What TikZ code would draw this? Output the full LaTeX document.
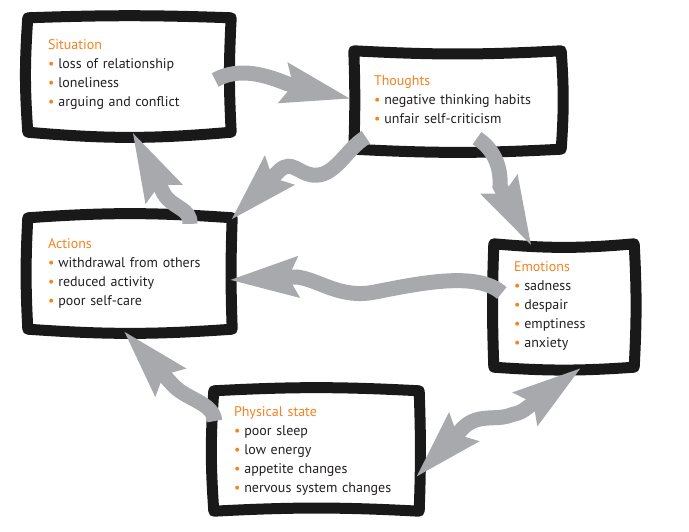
\documentclass[tikz,border=0pt]{standalone}
\usepackage{fontspec}
\setmainfont{PT Sans}
\usetikzlibrary{arrows.meta}
\definecolor{boxorange}{HTML}{F58220}
\definecolor{flowgray}{HTML}{A7A9AC}
\definecolor{inktext}{HTML}{231F20}
\newcommand{\bul}{{\color{boxorange}\textbullet}\hspace{4pt}}
\newcommand{\boxtitle}[1]{{\color{boxorange}#1}}
\tikzset{
  box/.style={rectangle,inner xsep=20pt,inner ysep=0pt,align=left,text=inktext,
    font=\fontsize{14}{19}\selectfont},
  frame/.style={line width=11pt,line join=round,line cap=round,draw=black!90},
  flow/.style={draw=flowgray,line width=15pt,->},
}

\begin{document}
\begin{tikzpicture}[x=1pt,y=1pt,>={Stealth[length=68pt,width=38pt,inset=8pt]}]
  \useasboundingbox (0,0) rectangle (689,-532);
  \node[box,text width=163pt,minimum height=114pt] (sit) at (129.5,-75)
    {\boxtitle{Situation}\\ \bul loss of relationship\\ \bul loneliness\\ \bul arguing and conflict};
  \node[box,text width=167pt,minimum height=98pt] (tho) at (457.5,-100)
    {\boxtitle{Thoughts}\\ \bul negative thinking habits\\ \bul unfair self-criticism};
  \node[box,text width=164pt,minimum height=111pt] (act) at (130,-273.5)
    {\boxtitle{Actions}\\ \bul withdrawal from others\\ \bul reduced activity\\ \bul poor self-care};
  \node[box,text width=100pt,minimum height=123pt] (emo) at (564,-305.5)
    {\boxtitle{Emotions}\\ \bul sadness\\ \bul despair\\ \bul emptiness\\ \bul anxiety};
  \node[box,text width=165pt,minimum height=120pt] (phy) at (316.5,-451)
    {\boxtitle{Physical state}\\ \bul poor sleep\\ \bul low energy\\ \bul appetite changes\\ \bul nervous system changes};
  \foreach \n/\a/\b/\c/\d in {sit/2/-3/5/4,tho/-3/4/3/-2,act/4/-2/4/3,emo/-5/3/4/2,phy/3/2/-3/4}
    \draw[frame] (\n.north west) to[bend left=\a] (\n.north east) to[bend left=\b] (\n.south east)
      to[bend left=\c] (\n.south west) to[bend left=\d] cycle;
  \draw[flow] ([shift={(-16,-5)}]sit.east) .. controls (240,-66) and (268,-76) .. (288,-84)
    -- ([shift={(-2,1)}]tho.west);
  \draw[flow] ([shift={(12,12)}]tho.south west) .. controls (345,-150) and (335,-178) .. (312,-175)
    .. controls (298,-173) and (292,-160) .. (280,-170) -- ([shift={(-2,-3)}]act.north east);
  \draw[flow] ([shift={(19.5,11)}]tho.south) .. controls (495,-150) and (501,-168) .. (500,-186)
    -- ([shift={(-32,-3)}]emo.north);
  \draw[flow] ([shift={(8,12.5)}]emo.west) .. controls (478,-272) and (425,-282) .. (375,-292)
    .. controls (340,-299) and (320,-280) .. (297,-277) -- ([shift={(-4,-6.5)}]act.east);
  \draw[flow] ([shift={(60,-6)}]act.north) .. controls (191,-208) and (172,-208) .. (164,-194)
    -- ([shift={(2.5,1)}]sit.south);
  \draw[flow] ([shift={(1,30)}]phy.west) .. controls (213,-402) and (186,-400) .. (172,-384)
    -- ([shift={(-7,-1)}]act.south);
  \draw[flow,<->] ([shift={(-4,-27)}]phy.east) -- (464,-427) .. controls (478,-414) and (495,-420) .. (508,-416)
    .. controls (516,-413) and (518,-414) .. (524,-410) -- ([shift={(18,0)}]emo.south);
\end{tikzpicture}
\end{document}
